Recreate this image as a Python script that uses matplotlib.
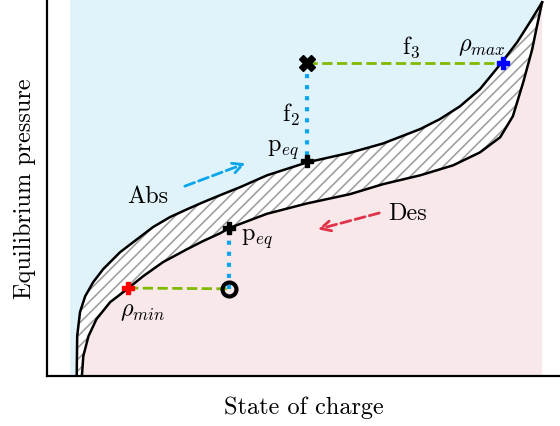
import numpy as np
import matplotlib
matplotlib.use("Agg")
import matplotlib.pyplot as plt
from matplotlib.collections import LineCollection

plt.rcParams['font.family'] = 'serif'
plt.rcParams['font.serif'] = ['cmr10']
plt.rcParams['mathtext.fontset'] = 'cm'
plt.rcParams['axes.formatter.use_mathtext'] = True

# --- data (state of charge, normalised pressure) ---
abs_x = [0.010, 0.011, 0.017, 0.028, 0.045, 0.066, 0.102, 0.138, 0.172,
         0.208, 0.244, 0.278, 0.314, 0.357, 0.414, 0.499, 0.590, 0.660,
         0.739, 0.781, 0.824, 0.866, 0.909, 0.945, 0.972, 0.998]
abs_y = [0.000, 0.108, 0.173, 0.216, 0.254, 0.289, 0.335, 0.370, 0.403,
         0.430, 0.451, 0.470, 0.489, 0.511, 0.543, 0.578, 0.604, 0.629,
         0.668, 0.695, 0.730, 0.776, 0.843, 0.903, 0.957, 1.011]

des_x = [0.021, 0.024, 0.035, 0.052, 0.081, 0.117, 0.151, 0.193, 0.244,
         0.278, 0.314, 0.335, 0.414, 0.499, 0.590, 0.660, 0.739, 0.809,
         0.866, 0.909, 0.936, 0.958, 0.977, 0.987, 0.998]
des_y = [0.000, 0.054, 0.108, 0.154, 0.200, 0.235, 0.270, 0.308, 0.343,
         0.365, 0.386, 0.401, 0.439, 0.467, 0.492, 0.519, 0.543, 0.570,
         0.605, 0.646, 0.703, 0.795, 0.884, 0.946, 1.011]

# key points
start_pt = (0.499, 0.846)     # cross
rho_max_pt = (0.915, 0.846)
peq_abs_pt = (0.499, 0.583)
rho_min_pt = (0.119, 0.238)
circle_pt = (0.333, 0.236)
peq_des_pt = (0.333, 0.400)

x_left, x_right = -0.004, 0.998
y_top = 1.02

fig = plt.figure(figsize=(5.6, 4.27), dpi=100)
ax = fig.add_axes([0.084, 0.117, 0.916, 0.883])
ax.set_xlim(-0.053, 1.036)
ax.set_ylim(0, y_top)

# background regions
ax.fill([x_left] + abs_x + [abs_x[-1], x_left],
        [0] + abs_y + [y_top, y_top], color='#e1f3fa', lw=0, zorder=0)
ax.fill(des_x + [x_right, x_right], des_y + [des_y[-1], 0],
        color='#f9e8ea', lw=0, zorder=0)
band = ax.fill(abs_x + des_x[::-1], abs_y + des_y[::-1], facecolor='white',
               lw=0, zorder=1)[0]

# hatch lines (45 deg on screen), clipped to the band
sx, sy = 471.0, 370.0
step = 11.5 / sx
offsets = np.arange(-1.0, 1.1, step)
segs = [[(c, 0.0), (c + 1.05 * sy / sx, 1.05)] for c in offsets]
hatch = LineCollection(segs, colors='#a0a0a0', linewidths=1.2, zorder=1.5)
ax.add_collection(hatch)
hatch.set_clip_path(band)

ax.plot(abs_x, abs_y, color='black', lw=1.8, zorder=2)
ax.plot(des_x, des_y, color='black', lw=1.8, zorder=2)

# dashed / dotted connectors
green = '#7fba00'
cyan = '#0aa6ec'
ax.plot([start_pt[0], rho_max_pt[0]], [start_pt[1], rho_max_pt[1]],
        '--', color=green, lw=2, zorder=3)
ax.plot([rho_min_pt[0], circle_pt[0]], [rho_min_pt[1], circle_pt[1]],
        '--', color=green, lw=2, zorder=3)
ax.plot([start_pt[0], peq_abs_pt[0]], [start_pt[1], peq_abs_pt[1]],
        ':', color=cyan, lw=3, zorder=3)
ax.plot([circle_pt[0], peq_des_pt[0]], [circle_pt[1], peq_des_pt[1]],
        ':', color=cyan, lw=3, zorder=3)

# markers
ax.plot(*start_pt, marker='X', color='black', ms=11, zorder=5)
ax.plot(*rho_max_pt, marker='P', color='blue', ms=9, zorder=5)
ax.plot(*rho_min_pt, marker='P', color='red', ms=9, zorder=5)
ax.plot(*peq_abs_pt, marker='P', color='black', ms=8, zorder=5)
ax.plot(*peq_des_pt, marker='P', color='black', ms=8, zorder=5)
ax.plot(*circle_pt, marker='o', mfc='none', mec='black', mew=3, ms=10, zorder=5)

# labels
fs = 17.5
ax.text(0.72, 0.892, r'f$_3$', fontsize=fs, ha='center', va='center')
ax.text(0.870, 0.892, r'$\rho_{max}$', fontsize=fs, ha='center', va='center')
ax.text(0.465, 0.708, r'f$_2$', fontsize=fs, ha='center', va='center')
ax.text(0.448, 0.614, r'p$_{eq}$', fontsize=fs, ha='center', va='center')
ax.text(0.393, 0.374, r'p$_{eq}$', fontsize=fs, ha='center', va='center')
ax.text(0.149, 0.176, r'$\rho_{min}$', fontsize=fs, ha='center', va='center')
ax.text(0.161, 0.486, 'Abs', fontsize=fs, ha='center', va='center')
ax.text(0.713, 0.441, 'Des', fontsize=fs, ha='center', va='center')

ax.annotate('', xy=(0.374, 0.578), xytext=(0.234, 0.511),
            arrowprops=dict(arrowstyle='->', color=cyan, lw=2, ls='--',
                            mutation_scale=18))
ax.annotate('', xy=(0.516, 0.395), xytext=(0.658, 0.443),
            arrowprops=dict(arrowstyle='->', color='#e0334a', lw=2, ls='--',
                            mutation_scale=18))

ax.set_xlabel('State of charge', fontsize=fs, labelpad=14)
ax.set_ylabel('Equilibrium pressure', fontsize=fs, labelpad=8)
ax.set_xticks([])
ax.set_yticks([])
for side in ['top', 'right']:
    ax.spines[side].set_visible(False)
for side in ['left', 'bottom']:
    ax.spines[side].set_linewidth(1.6)

fig.savefig('out.png', dpi=100)
